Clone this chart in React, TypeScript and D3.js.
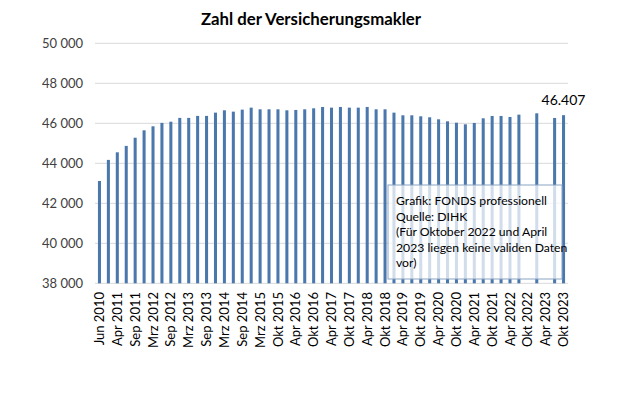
import React from "react";
import * as d3 from "d3";

// Stichtage (nur jeder zweite wird beschriftet)
const categories = [
    "Jun 2010", "Jan 2011", "Apr 2011", "Jul 2011", "Sep 2011", "Jan 2012", "Mrz 2012", "Jul 2012",
    "Sep 2012", "Jan 2013", "Mrz 2013", "Jul 2013", "Sep 2013", "Jan 2014", "Mrz 2014", "Jul 2014",
    "Sep 2014", "Jan 2015", "Mrz 2015", "Jul 2015", "Okt 2015", "Jan 2016", "Apr 2016", "Jul 2016",
    "Okt 2016", "Jan 2017", "Apr 2017", "Jul 2017", "Okt 2017", "Jan 2018", "Apr 2018", "Jul 2018",
    "Okt 2018", "Jan 2019", "Apr 2019", "Jul 2019", "Okt 2019", "Jan 2020", "Apr 2020", "Jul 2020",
    "Okt 2020", "Jan 2021", "Apr 2021", "Jul 2021", "Okt 2021", "Jan 2022", "Apr 2022", "Jul 2022",
    "Okt 2022", "Jan 2023", "Apr 2023", "Jul 2023", "Okt 2023",
]

// Anzahl Versicherungsmakler (null = keine validen Daten)
const values: (number | null)[] = [
    43115, 44170, 44550, 44870, 45280, 45650, 45850, 46020,
    46080, 46270, 46270, 46370, 46370, 46533, 46650, 46583,
    46683, 46783, 46700, 46700, 46700, 46650, 46667, 46700,
    46750, 46817, 46783, 46817, 46783, 46783, 46817, 46700,
    46700, 46533, 46400, 46400, 46350, 46300, 46200, 46100,
    46030, 45950, 46017, 46250, 46367, 46367, 46317, 46433,
    null, 46500, null, 46267, 46407,
]

const yTicks = [38000, 40000, 42000, 44000, 46000, 48000, 50000]

const noteLines = [
    "Grafik: FONDS professionell",
    "Quelle: DIHK",
    "(Für Oktober 2022 und April",
    "2023 liegen keine validen Daten",
    "vor)",
]

const font = "Lato, 'Open Sans', sans-serif"

const App = () => {
    const width = 620
    const height = 413

    const x = d3.scaleBand<string>()
        .domain(categories)
        .range([95, 568])
        .paddingInner(0.66)
        .paddingOuter(0.33)

    const y = d3.scaleLinear()
        .domain([38000, 50000])
        .range([283.3, 43.3])

    const fmt = (v: number) => d3.format(",")(v).replace(",", " ")

    const lastIdx = values.length - 1
    const lastVal = values[lastIdx] as number

    return (
        <div style={{position: "absolute", left: 0, top: 0}}>
            <svg width={width} height={height} style={{background: "#fff", display: "block"}}>
                <text x={311} y={25} textAnchor="middle" fontFamily={font} fontWeight="bold"
                      fontSize={16.8} fill="#000">Zahl der Versicherungsmakler</text>

                {/* Gitternetz + y-Achse */}
                {yTicks.map(t => (
                    <g key={t}>
                        <line x1={95} x2={568} y1={y(t)} y2={y(t)} stroke="#d9d9d9" strokeWidth={1}/>
                        <text x={83} y={y(t)} dy="0.35em" textAnchor="end" fontFamily={font}
                              fontSize={13} fill="#404040">{fmt(t)}</text>
                    </g>
                ))}

                {/* Balken */}
                {values.map((v, i) => v == null ? null : (
                    <rect key={i} x={x(categories[i])} y={y(v)} width={x.bandwidth()}
                          height={y(38000) - y(v)} fill="#4a78ad"/>
                ))}

                {/* x-Beschriftung, jeder zweite Stichtag */}
                {categories.map((c, i) => i % 2 !== 0 ? null : (
                    <text key={c} transform={`translate(${(x(c) as number) + x.bandwidth() / 2},292) rotate(-90)`}
                          dy="0.35em" textAnchor="end" fontFamily={font} fontSize={13}
                          fill="#000">{c}</text>
                ))}

                {/* letzter Wert */}
                <text x={(x(categories[lastIdx]) as number) + x.bandwidth() / 2} y={y(lastVal) - 10}
                      textAnchor="middle" fontFamily={font} fontSize={14} fill="#000">
                    {d3.format(",")(lastVal).replace(",", ".")}
                </text>

                {/* Hinweisbox */}
                <rect x={388} y={185} width={174} height={94} fill="#fff" fillOpacity={0.75}
                      stroke="#8aa3c2" strokeWidth={1}/>
                {noteLines.map((l, i) => (
                    <text key={i} x={396} y={205 + i * 15.5} fontFamily={font} fontSize={12.2}
                          fill="#000">{l}</text>
                ))}
            </svg>
        </div>
    );
};

export default App;
